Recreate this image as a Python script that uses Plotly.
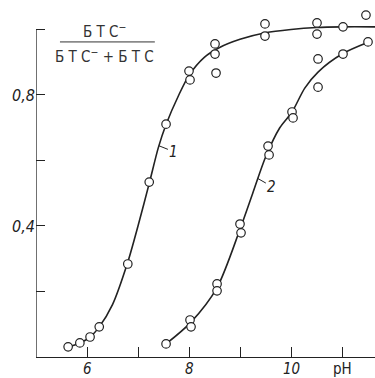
import plotly.graph_objects as go

# measured points, curve 1
pts1_ph = [5.63, 5.86, 6.06, 6.24, 6.80, 7.22, 7.55, 8.00, 8.02, 8.51, 8.51, 8.53, 9.49, 9.49, 10.51, 10.51, 11.02, 11.47]
pts1_val = [0.031, 0.043, 0.061, 0.092, 0.284, 0.534, 0.711, 0.873, 0.846, 0.956, 0.925, 0.867, 1.017, 0.980, 1.020, 0.986, 1.008, 1.044]

# measured points, curve 2
pts2_ph = [7.55, 8.02, 8.04, 8.55, 8.55, 9.00, 9.02, 9.55, 9.57, 10.02, 10.04, 10.53, 10.53, 11.02, 11.51]
pts2_val = [0.040, 0.113, 0.092, 0.223, 0.202, 0.406, 0.379, 0.644, 0.617, 0.748, 0.730, 0.824, 0.910, 0.925, 0.962]

# fitted curves
curve1_ph = [5.63, 5.86, 6.06, 6.24, 6.5, 6.8, 7.0, 7.22, 7.4, 7.55, 7.8, 8.0, 8.3, 8.6, 9.0, 9.5, 10.0, 10.5, 11.0, 11.65]
curve1_val = [0.031, 0.043, 0.061, 0.092, 0.16, 0.29, 0.40, 0.53, 0.64, 0.71, 0.80, 0.86, 0.915, 0.945, 0.97, 0.99, 1.0, 1.006, 1.008, 1.008]
curve2_ph = [7.55, 8.03, 8.55, 9.0, 9.25, 9.5, 9.78, 10.02, 10.27, 10.53, 11.0, 11.5]
curve2_val = [0.04, 0.105, 0.212, 0.39, 0.50, 0.61, 0.70, 0.748, 0.821, 0.87, 0.925, 0.96]

x_ticks = [6, 7, 8, 9, 10, 11]
x_labels = ["6", "", "8", "", "10", "pH"]
y_label_vals = [0.4, 0.8]
y_labels = ["0,4", "0,8"]

FONT = "Liberation Sans Narrow, DejaVu Sans Condensed, sans-serif"

fig = go.Figure()
for cx, cy in [(curve1_ph, curve1_val), (curve2_ph, curve2_val)]:
    fig.add_trace(go.Scatter(x=cx, y=cy, mode="lines", line=dict(color="#222", width=1.6, shape="spline", smoothing=0.8),
                             hoverinfo="skip", showlegend=False, cliponaxis=False))
for px, py in [(pts1_ph, pts1_val), (pts2_ph, pts2_val)]:
    fig.add_trace(go.Scatter(x=px, y=py, mode="markers", cliponaxis=False,
                             marker=dict(symbol="circle", size=8.5, color="white", line=dict(color="#222", width=1.2)),
                             showlegend=False))

fig.add_shape(type="line", x0=5, x1=5, y0=0, y1=1.0, xref="x", yref="y", line=dict(color="#222", width=1.3))
# fraction
fig.add_shape(type="line", x0=5.47, x1=7.33, y0=0.962, y1=0.962, xref="x", yref="y", line=dict(color="#333", width=1))
fig.add_annotation(x=6.35, y=0.995, text="Б Т С<sup>−</sup>", showarrow=False, font=dict(family=FONT, size=15, color="#333"))
fig.add_annotation(x=6.35, y=0.918, text="Б Т С<sup>−</sup> + Б Т С", showarrow=False, font=dict(family=FONT, size=15, color="#333"))

fig.add_annotation(x=7.41, y=0.645, text="<i>1</i>", showarrow=True, arrowhead=0, arrowwidth=1, arrowcolor="#222",
                   ax=15, ay=6, font=dict(family=FONT, size=15, color="#222"))
fig.add_annotation(x=9.35, y=0.545, text="<i>2</i>", showarrow=True, arrowhead=0, arrowwidth=1, arrowcolor="#222",
                   ax=14, ay=8, font=dict(family=FONT, size=15, color="#222"))

# x tick labels as annotations so they sit close under the axis
for v, t in zip(x_ticks, x_labels):
    if t:
        fig.add_annotation(x=v, y=0, xref="x", yref="paper", yanchor="top", yshift=-1, text=t, showarrow=False,
                           font=dict(family=FONT, size=15, color="#222", style="italic" if t != "pH" else "normal"))

fig.update_xaxes(range=[5, 11.647], tickvals=x_ticks, ticks="inside", ticklen=10, tickcolor="#222",
                 showline=True, linecolor="#222", linewidth=1.3, showgrid=False, zeroline=False, automargin=False,
                 showticklabels=False)
fig.update_yaxes(range=[0, 1.0595], tickvals=y_label_vals, ticktext=y_labels, ticks="inside", ticklen=9, tickcolor="#222",
                 minor=dict(tick0=0, dtick=0.2, ticks="inside", ticklen=9, tickcolor="#222", showgrid=False),
                 showline=False, showgrid=False, zeroline=False, automargin=False,
                 tickfont=dict(family=FONT, size=16, color="#222", style="italic"))
fig.update_layout(width=375, height=378, margin=dict(l=36, r=0, t=10, b=21), plot_bgcolor="white", paper_bgcolor="white",
                  font=dict(family=FONT))
fig.write_html("out.html", config={"displayModeBar": False},
               post_script="document.body.style.margin='0';document.body.style.overflow='hidden';")
